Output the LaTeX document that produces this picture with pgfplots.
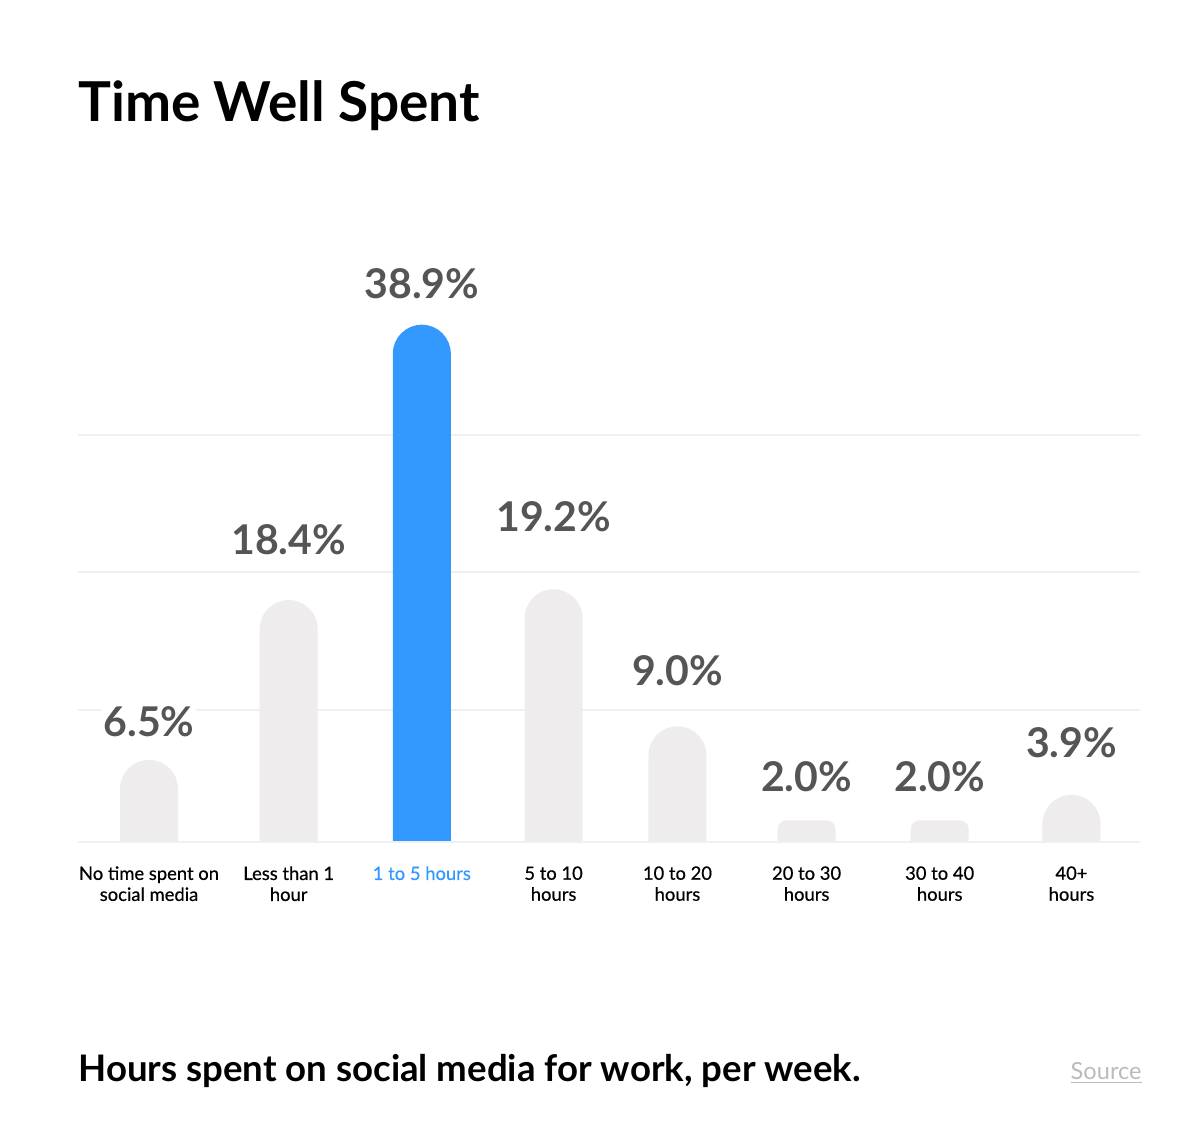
\documentclass[border=0pt]{standalone}
\usepackage{pgfplots}
\pgfplotsset{compat=1.18}
\usepackage{fontspec}
\setmainfont{Lato}
\newfontface\medfont{Lato}[FakeBold=0.5]
\definecolor{barblue}{HTML}{3399FF}
\definecolor{bargray}{HTML}{EEECEC}
\definecolor{labgray}{HTML}{555555}
\definecolor{gridgray}{HTML}{F0F0F0}
\definecolor{srcgray}{HTML}{BBBBBB}
\pgfplotsset{
  layers/mylayers/.define layer set={
    axis background,axis grid,axis ticks,axis lines,main,axis tick labels,axis descriptions,axis foreground
  }{/pgfplots/layers/standard},
  mybar/.style={ybar, bar width=29pt, bar shift=0pt, draw=none, fill=bargray, rounded corners=14.5pt},
  lab/.style={every node near coord/.append style={yshift=#1}},
}
\begin{document}
\begin{tikzpicture}
\path (0,0) rectangle (600pt,-572.5pt);
\node[anchor=base west, inner sep=0pt, font=\fontsize{27.5pt}{30pt}\selectfont\bfseries] at (39pt,-61pt) {Time Well Spent};
\node[anchor=base west, inner sep=0pt, font=\fontsize{18.3pt}{21pt}\selectfont\bfseries] at (39pt,-540.5pt) {Hours spent on social media for work, per week.};
\node[anchor=base east, inner sep=0pt, text=srcgray, font=\fontsize{11.8pt}{14pt}\selectfont] at (571pt,-539.5pt) {\underline{Source}};
\begin{axis}[
  set layers=mylayers,
  at={(39pt,-436.45pt)}, anchor=south west,
  scale only axis, width=531pt, height=321.78pt,
  xmin=-0.539, xmax=7.52, ymin=-1.92, ymax=46,
  y coord trafo/.code={\pgfmathparse{#1+5}},
  y coord inv trafo/.code={\pgfmathparse{#1-5}},
  axis line style={draw=none},
  tick style={draw=none},
  ytick={10.2,20.45,30.65},
  yticklabel style={text opacity=0},
  ymajorgrids,
  grid style={draw=gridgray, line width=1pt},
  xtick={0,1.06,2.07,3.07,4.01,4.99,6.0,7.0},
  xticklabels={{No time spent on\\social media},{Less than 1\\hour},{\textcolor{barblue}{1 to 5 hours}},{5 to 10\\hours},{10 to 20\\hours},{20 to 30\\hours},{30 to 40\\hours},{40+\\hours}},
  xticklabel style={align=center, anchor=north, inner sep=0pt, yshift=3.45pt, font=\fontsize{9.2pt}{10.5pt}\medfont},
  point meta=explicit,
  nodes near coords={\pgfmathprintnumber[fixed,fixed zerofill,precision=1,assume math mode=true]{\pgfplotspointmeta}\%},
  every node near coord/.append style={anchor=base, fill=white, inner xsep=6pt, inner ysep=2pt, text=labgray, font=\fontsize{20.5pt}{21pt}\selectfont\bfseries},
]
\addplot[mybar, lab=11.5pt] coordinates {(0,6.5) [6.5]};
\addplot[mybar, lab=23pt] coordinates {(1.06,18.4) [18.4]};
\addplot[mybar, fill=barblue, lab=13pt] coordinates {(2.07,38.9) [38.9]};
\addplot[mybar, lab=29pt] coordinates {(3.07,19.2) [19.2]};
\addplot[mybar, lab=20.5pt] coordinates {(4.01,9.0) [9.0]};
\addplot[mybar, rounded corners=4.5pt, lab=14.5pt] coordinates {(4.99,2.0) [2.0]};
\addplot[mybar, rounded corners=4.5pt, lab=14.5pt] coordinates {(6.0,2.0) [2.0]};
\addplot[mybar, lab=18.5pt] coordinates {(7.0,3.9) [3.9]};
% mask the rounded bottoms below the baseline, then redraw the baseline
\fill[white] (axis cs:-1,-3) rectangle (axis cs:8,0.38);
\draw[gridgray, line width=1pt] (axis cs:-0.539,0.38) -- (axis cs:7.52,0.38);
\end{axis}
\end{tikzpicture}
\end{document}
